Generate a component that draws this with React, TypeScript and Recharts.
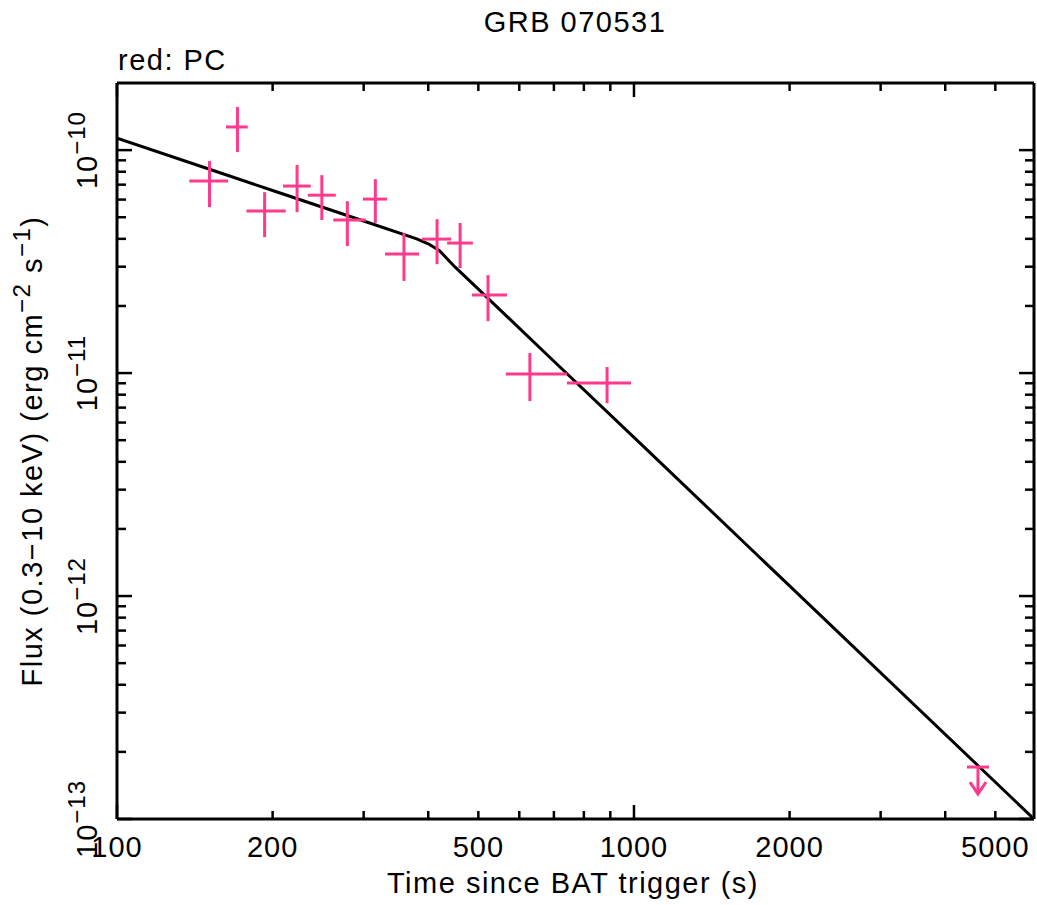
import { ComposedChart, ErrorBar, Line, Scatter, XAxis, YAxis } from 'recharts'

// PC mode light curve points (s, erg cm^-2 s^-1)
const timeMid = [151, 171, 193, 223, 249, 279, 316, 359, 416, 461, 522, 629, 887]
const timeLo = [138, 162.5, 178, 209.5, 234, 262, 299, 330, 389, 435, 486, 565, 742]
const timeHi = [164, 179, 212, 237, 265, 303, 333, 384, 443, 488, 568, 742, 987]
const fluxMid = [7.26e-11, 1.27e-10, 5.33e-11, 6.9e-11, 6.28e-11, 4.86e-11, 6.03e-11, 3.42e-11, 3.99e-11, 3.83e-11, 2.24e-11, 9.9e-12, 9.02e-12]
const fluxLo = [5.55e-11, 9.8e-11, 4.07e-11, 5.27e-11, 4.86e-11, 3.71e-11, 4.71e-11, 2.59e-11, 3.08e-11, 2.96e-11, 1.71e-11, 7.49e-12, 7.33e-12]
const fluxHi = [8.93e-11, 1.56e-10, 6.48e-11, 8.57e-11, 7.72e-11, 5.9e-11, 7.41e-11, 4.24e-11, 4.9e-11, 4.71e-11, 2.75e-11, 1.23e-11, 1.064e-11]

// upper limit
const ulTime = [4628]
const ulTimeLo = [4406]
const ulTimeHi = [4861]
const ulFlux = [1.71e-13]

// broken power-law model
const modelTime = [100, 150, 200, 300, 380, 400, 420, 450, 500, 700, 1000, 2000, 4600, 5940]
const modelFlux = [1.13e-10, 8.25e-11, 6.59e-11, 4.81e-11, 4.0e-11, 3.8e-11, 3.55e-11, 3.0e-11, 2.38e-11, 1.13e-11, 5.15e-12, 1.11e-12, 1.76e-13, 1e-13]

const xTicks = [100, 200, 300, 400, 500, 600, 700, 800, 900, 1000, 2000, 3000, 4000, 5000]
const xLabels = [100, 200, 500, 1000, 2000, 5000]
const yTicks = [
  1e-13, 2e-13, 3e-13, 4e-13, 5e-13, 6e-13, 7e-13, 8e-13, 9e-13,
  1e-12, 2e-12, 3e-12, 4e-12, 5e-12, 6e-12, 7e-12, 8e-12, 9e-12,
  1e-11, 2e-11, 3e-11, 4e-11, 5e-11, 6e-11, 7e-11, 8e-11, 9e-11,
  1e-10,
]

const PINK = '#ff3a8c'
const FONT = 'Liberation Sans, Arial, sans-serif'

const points = timeMid.map((t, i) => ({
  t,
  f: fluxMid[i],
  tErr: [t - timeLo[i], timeHi[i] - t],
  fErr: [fluxMid[i] - fluxLo[i], fluxHi[i] - fluxMid[i]],
}))

const limits = ulTime.map((t, i) => ({
  t,
  f: ulFlux[i],
  tErr: [t - ulTimeLo[i], ulTimeHi[i] - t],
}))

const model = modelTime.map((t, i) => ({ t, f: modelFlux[i] }))

const isDecade = (v: number) => {
  const l = Math.log10(v)
  return Math.abs(l - Math.round(l)) < 1e-6
}

const BottomTick = (props: any) => {
  const { x, y, payload } = props
  const v = payload.value
  return (
    <g>
      <line x1={x} y1={y} x2={x} y2={y - (isDecade(v) ? 14 : 8)} stroke="#000" strokeWidth={2.5} />
      {xLabels.includes(v) && (
        <text x={x} y={y + 38} textAnchor="middle" fontSize={29} fontFamily={FONT} letterSpacing={1} fill="#000">
          {v}
        </text>
      )}
    </g>
  )
}

const TopTick = (props: any) => {
  const { x, y, payload } = props
  return <line x1={x} y1={y} x2={x} y2={y + (isDecade(payload.value) ? 14 : 8)} stroke="#000" strokeWidth={2.5} />
}

const LeftTick = (props: any) => {
  const { x, y, payload } = props
  const v = payload.value
  const major = isDecade(v)
  const lx = x - 20
  return (
    <g>
      <line x1={x} y1={y} x2={x + (major ? 15 : 9)} y2={y} stroke="#000" strokeWidth={2.5} />
      {major && (
        <text
          x={lx}
          y={y}
          transform={`rotate(-90, ${lx}, ${y})`}
          textAnchor="middle"
          fontSize={29}
          fontFamily={FONT}
          letterSpacing={1}
          fill="#000"
        >
          10
          <tspan dy={-12} fontSize={24}>
            {'\u2212' + Math.round(-Math.log10(v))}
          </tspan>
        </text>
      )}
    </g>
  )
}

const RightTick = (props: any) => {
  const { x, y, payload } = props
  return <line x1={x} y1={y} x2={x - (isDecade(payload.value) ? 15 : 9)} y2={y} stroke="#000" strokeWidth={2.5} />
}

const UpperLimit = (props: any) => {
  const { cx, cy } = props
  return (
    <g stroke={PINK} strokeWidth={3} fill="none">
      <line x1={cx} y1={cy} x2={cx} y2={cy + 27} />
      <polyline points={`${cx - 8},${cy + 15} ${cx},${cy + 27} ${cx + 8},${cy + 15}`} />
    </g>
  )
}

const axisLine = { stroke: '#000', strokeWidth: 3 }

export default function App() {
  return (
    <div style={{ position: 'absolute', left: 0, top: 0, width: 1037, height: 905, background: '#fff' }}>
      <ComposedChart width={1037} height={905} margin={{ top: 63, right: 1, bottom: 46, left: 77 }}>
        <XAxis
          dataKey="t"
          type="number"
          scale="log"
          domain={[100, 5940]}
          allowDataOverflow
          ticks={xTicks}
          interval={0}
          height={40}
          tickSize={0}
          tickMargin={0}
          tickLine={false}
          axisLine={axisLine}
          tick={BottomTick}
        />
        <XAxis
          xAxisId="top"
          orientation="top"
          dataKey="t"
          type="number"
          scale="log"
          domain={[100, 5940]}
          allowDataOverflow
          ticks={xTicks}
          interval={0}
          height={20}
          tickSize={0}
          tickMargin={0}
          tickLine={false}
          axisLine={axisLine}
          tick={TopTick}
        />
        <YAxis
          dataKey="f"
          type="number"
          scale="log"
          domain={[1e-13, 2e-10]}
          allowDataOverflow
          ticks={yTicks}
          interval={0}
          width={40}
          tickSize={0}
          tickMargin={0}
          tickLine={false}
          axisLine={axisLine}
          tick={LeftTick}
        />
        <YAxis
          yAxisId="right"
          orientation="right"
          dataKey="f"
          type="number"
          scale="log"
          domain={[1e-13, 2e-10]}
          allowDataOverflow
          ticks={yTicks}
          interval={0}
          width={2}
          tickSize={0}
          tickMargin={0}
          tickLine={false}
          axisLine={axisLine}
          tick={RightTick}
        />
        <Line
          data={model}
          dataKey="f"
          type="linear"
          stroke="#000"
          strokeWidth={3}
          dot={false}
          activeDot={false}
          isAnimationActive={false}
        />
        <Scatter data={points} dataKey="f" shape={() => <g />} isAnimationActive={false}>
          <ErrorBar dataKey="tErr" direction="x" width={0} stroke={PINK} strokeWidth={3} isAnimationActive={false} />
          <ErrorBar dataKey="fErr" direction="y" width={0} stroke={PINK} strokeWidth={3} isAnimationActive={false} />
        </Scatter>
        <Scatter data={limits} dataKey="f" shape={UpperLimit} isAnimationActive={false}>
          <ErrorBar dataKey="tErr" direction="x" width={0} stroke={PINK} strokeWidth={3} isAnimationActive={false} />
        </Scatter>
        <text x={575} y={32} textAnchor="middle" fontSize={29} fontFamily={FONT} letterSpacing={1.5} fill="#000">
          GRB 070531
        </text>
        <text x={118} y={70} fontSize={29} fontFamily={FONT} letterSpacing={1.5} fill="#000">
          red: PC
        </text>
        <text x={573} y={893} textAnchor="middle" fontSize={29} fontFamily={FONT} letterSpacing={1.5} fill="#000">
          Time since BAT trigger (s)
        </text>
        <text
          x={42}
          y={451}
          transform="rotate(-90, 42, 451)"
          textAnchor="middle"
          fontSize={29}
          fontFamily={FONT}
          letterSpacing={1.5}
          fill="#000"
        >
          Flux (0.3{'\u2212'}10 keV) (erg cm
          <tspan dy={-12} fontSize={24}>{'\u2212'}2</tspan>
          <tspan dy={12}> s</tspan>
          <tspan dy={-12} fontSize={24}>{'\u2212'}1</tspan>
          <tspan dy={12}>)</tspan>
        </text>
      </ComposedChart>
    </div>
  )
}
